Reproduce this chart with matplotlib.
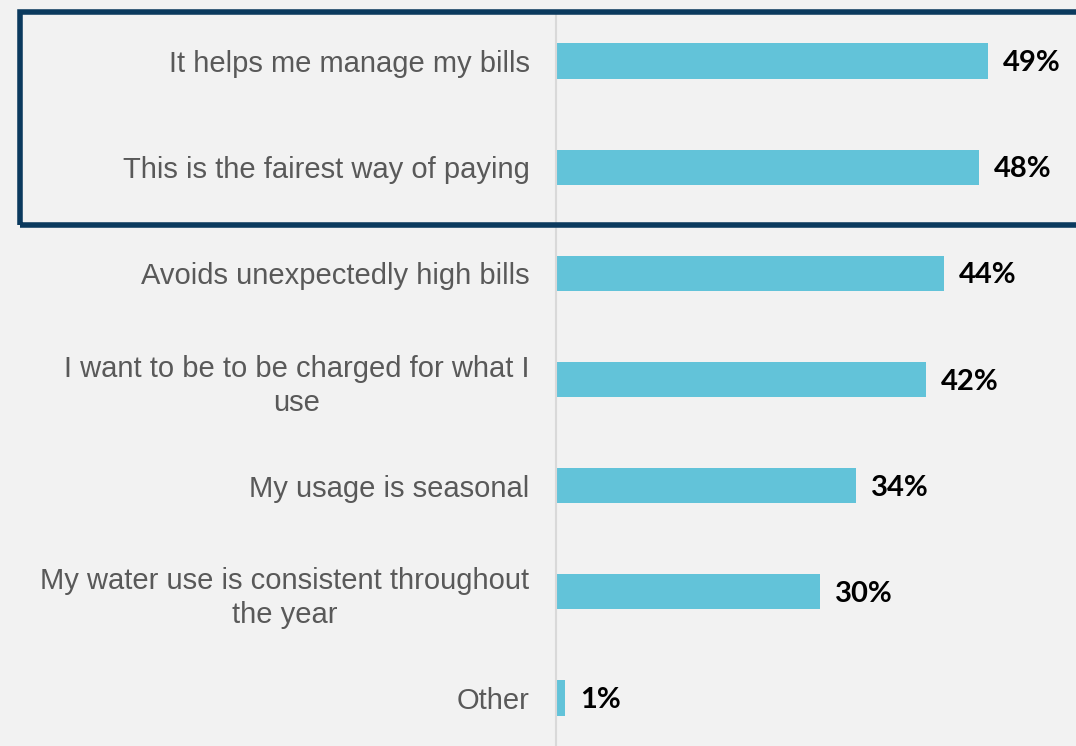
import matplotlib.pyplot as plt
from matplotlib.patches import Rectangle

# survey reasons and share of respondents (%)
reasons = [
    "It helps me manage my bills",
    "This is the fairest way of paying",
    "Avoids unexpectedly high bills",
    "I want to be to be charged for what I\nuse",
    "My usage is seasonal",
    "My water use is consistent throughout\nthe year",
    "Other",
]
shares = [49, 48, 44, 42, 34, 30, 1]

BG = '#f2f2f2'
BAR = '#62c3d9'
NAVY = '#0b3a5e'
W, H = 1076, 746

fig = plt.figure(figsize=(10.76, 7.46), dpi=100, facecolor=BG)
ax = fig.add_axes([556 / W, 0.0, 520 / W, 733 / H], facecolor=BG)

ypos = list(range(len(reasons)))
ax.barh(ypos, shares, height=0.33, color=BAR)

for y, v in zip(ypos, shares):
    ax.annotate(f'{v}%', (v, y), xytext=(15, -2), textcoords='offset pixels',
                ha='left', va='center', fontsize=21, fontweight='bold',
                family='Lato', color='black')

ax.set_xlim(0, 59)
ax.set_ylim(6.452, -0.452)
ax.set_xticks([])
ax.set_yticks(ypos)
ax.set_yticklabels(reasons, fontsize=21, color='#595959',
                   family=['Liberation Sans', 'DejaVu Sans'])
for lbl in ax.get_yticklabels():
    lbl.set_multialignment('center')
    lbl.set_linespacing(1.28)
ax.tick_params(axis='y', length=0, pad=19)

for side in ['top', 'right', 'bottom']:
    ax.spines[side].set_visible(False)
ax.spines['left'].set_color('#d9d9d9')
ax.spines['left'].set_linewidth(1.5)

# frame around the two leading reasons
box = Rectangle((20 / W, 1 - 225 / H), 1.1, (225 - 12.5) / H,
                transform=fig.transFigure, fill=False, edgecolor=NAVY,
                linewidth=4.0, clip_on=False)
fig.add_artist(box)

fig.savefig('out.png', dpi=100, facecolor=BG)
